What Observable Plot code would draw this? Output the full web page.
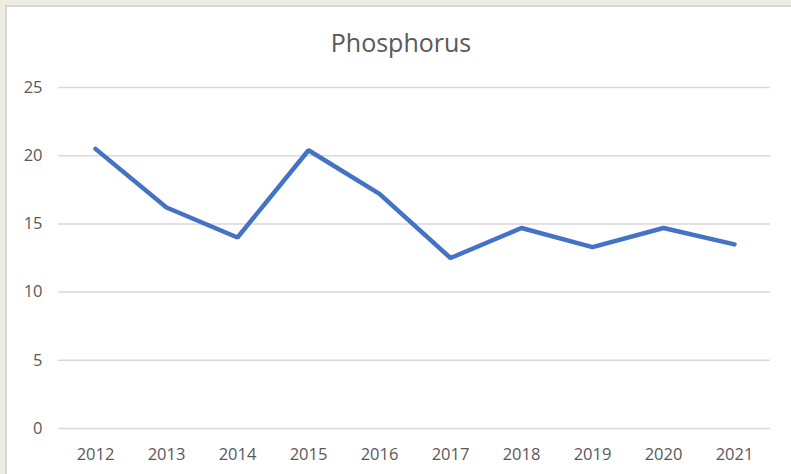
<!DOCTYPE html>
<html>
<head>
<meta charset="utf-8">
<script src="https://cdn.jsdelivr.net/npm/d3@7"></script>
<script src="https://cdn.jsdelivr.net/npm/@observablehq/plot@0.6"></script>
<style>
  html, body { margin: 0; padding: 0; }
  body { width: 791px; height: 474px; overflow: hidden; background: #eeebe0; position: relative; font-family: "Open Sans", sans-serif; }
  #panel { position: absolute; left: 5px; top: 5px; width: 800px; height: 480px; background: #fff; border: 2px solid #d6d6d6; }
  #title { position: absolute; left: 0; width: 802px; top: 25px; text-align: center; font-size: 25px; color: #595959; }
  #chart { position: absolute; left: 0; top: 0; }
</style>
</head>
<body>
<div id="panel"></div>
<div id="title">Phosphorus</div>
<div id="chart"></div>
<script>
const years = ["2012","2013","2014","2015","2016","2017","2018","2019","2020","2021"];
const phosphorus = [20.5, 16.2, 14.0, 20.4, 17.2, 12.5, 14.7, 13.3, 14.7, 13.5];
const yTicks = [0, 5, 10, 15, 20, 25];

const data = years.map((y, i) => ({year: y, value: phosphorus[i]}));

const chart = Plot.plot({
  width: 791,
  height: 474,
  marginLeft: 58,
  marginRight: 21,
  marginTop: 87,
  marginBottom: 46,
  style: {background: "transparent", color: "#595959", fontSize: "16.5px", fontFamily: "Open Sans, sans-serif"},
  x: {type: "point", domain: years, padding: 0.5, label: null},
  y: {domain: [0, 25], label: null},
  marks: [
    Plot.ruleY(yTicks, {stroke: "#d9d9d9", strokeWidth: 1.5}),
    Plot.axisY({ticks: yTicks, tickSize: 0, tickPadding: 16, label: null}),
    Plot.axisX({tickSize: 0, tickPadding: 20, label: null}),
    Plot.line(data, {x: "year", y: "value", stroke: "#4472c4", strokeWidth: 4.5, strokeLinejoin: "miter", strokeLinecap: "round"})
  ]
});
document.getElementById("chart").appendChild(chart);
</script>
</body>
</html>
